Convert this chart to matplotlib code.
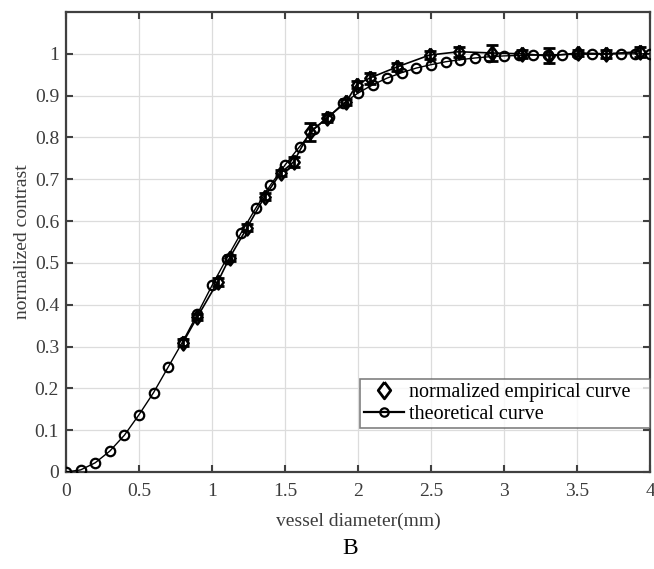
import matplotlib
matplotlib.use("Agg")
import matplotlib.pyplot as plt
from matplotlib.lines import Line2D
import numpy as np

plt.rcParams['font.family'] = ['Liberation Serif', 'DejaVu Serif']

# theoretical curve, sampled every 0.1 mm
theo_x = [0.0, 0.1, 0.2, 0.3, 0.4, 0.5, 0.6, 0.7, 0.8, 0.9,
          1.0, 1.1, 1.2, 1.3, 1.4, 1.5, 1.6, 1.7, 1.8, 1.9,
          2.0, 2.1, 2.2, 2.3, 2.4, 2.5, 2.6, 2.7, 2.8, 2.9,
          3.0, 3.1, 3.2, 3.3, 3.4, 3.5, 3.6, 3.7, 3.8, 3.9, 4.0]
theo_y = [0.0, 0.005, 0.022, 0.05, 0.088, 0.137, 0.19, 0.251, 0.312, 0.378,
          0.446, 0.51, 0.572, 0.631, 0.686, 0.734, 0.778, 0.82, 0.85, 0.882,
          0.906, 0.926, 0.942, 0.955, 0.966, 0.974, 0.981, 0.986, 0.99, 0.993,
          0.995, 0.996, 0.997, 0.998, 0.998, 0.999, 0.999, 0.999, 1.0, 1.0, 1.0]

# normalized empirical curve with error bars
emp_x = [0.80, 0.90, 1.04, 1.12, 1.24, 1.36, 1.47, 1.56, 1.67, 1.79, 1.92,
         1.99, 2.08, 2.27, 2.49, 2.69, 2.92, 3.12, 3.31, 3.51, 3.70, 3.93]
emp_y = [0.309, 0.371, 0.455, 0.512, 0.584, 0.658, 0.715, 0.742, 0.813, 0.847, 0.885,
         0.926, 0.942, 0.969, 0.997, 1.005, 1.002, 1.0, 0.995, 1.002, 1.0, 1.005]
emp_err = [0.008, 0.008, 0.01, 0.008, 0.008, 0.008, 0.008, 0.012, 0.022, 0.01, 0.008,
           0.008, 0.013, 0.01, 0.01, 0.012, 0.02, 0.01, 0.018, 0.008, 0.01, 0.012]

xticks = [0, 0.5, 1, 1.5, 2, 2.5, 3, 3.5, 4]
xtick_labels = ['0', '0.5', '1', '1.5', '2', '2.5', '3', '3.5', '4']
yticks = [0, 0.1, 0.2, 0.3, 0.4, 0.5, 0.6, 0.7, 0.8, 0.9, 1]
ytick_labels = ['0', '0.1', '0.2', '0.3', '0.4', '0.5', '0.6', '0.7', '0.8', '0.9', '1']

# matlab style diamond (taller than wide)
diamond = [(0, 1), (0.75, 0), (0, -1), (-0.75, 0), (0, 1)]

fig = plt.figure(figsize=(6.54, 5.69), dpi=100)
ax = fig.add_axes([66/654, 1 - 472/569, 584/654, 460/569])

axcol = '#404040'
txtcol = '#3c3c3c'
ax.errorbar(emp_x, emp_y, yerr=emp_err, fmt='none', ecolor='black',
            elinewidth=2, capsize=4, capthick=2, zorder=3)
ax.plot(emp_x, emp_y, '-', color='black', lw=1.2, zorder=2)
ax.plot(emp_x, emp_y, ls='none', marker=diamond, ms=10, mfc='none',
        mec='black', mew=1.8, zorder=3)
ax.plot(theo_x, theo_y, '-o', color='black', lw=1.0, ms=6.8, mfc='none',
        mew=1.6, zorder=4)

ax.set_xlim(0, 4)
ax.set_ylim(0, 1.1)
ax.set_xticks(xticks)
ax.set_xticklabels(xtick_labels)
ax.set_yticks(yticks)
ax.set_yticklabels(ytick_labels)
ax.grid(True, color='#dcdcdc', lw=0.9)
ax.set_axisbelow(True)
ax.tick_params(direction='in', top=True, right=True, length=5, width=1.5,
               colors=axcol, labelsize=14, labelcolor=txtcol, pad=5)
ax.tick_params(axis='x', pad=8)
for s in ax.spines.values():
    s.set_color(axcol)
    s.set_linewidth(1.6)

ax.set_xlabel('vessel diameter(mm)', fontsize=14, color=txtcol, labelpad=9)
ax.set_ylabel('normalized contrast', fontsize=14, color=txtcol, labelpad=3)

h1 = Line2D([], [], ls='none', marker=diamond, ms=12, mfc='none', mec='black', mew=2)
h2 = Line2D([], [], ls='-', color='black', lw=1.6, marker='o', ms=6, mfc='none', mew=1.6)
leg = ax.legend([h1, h2], ['normalized empirical curve   ', 'theoretical curve'],
                loc='lower right', bbox_to_anchor=(1.0, 0.096), borderaxespad=0,
                fontsize=14.5, frameon=True, fancybox=False, handlelength=2.0,
                handletextpad=0.25, borderpad=0.2, labelspacing=0.15)
leg.get_frame().set_edgecolor('#606060')
leg.get_frame().set_linewidth(1.2)

fig.text(350/654, 1 - 548/569, 'B', fontsize=17, ha='center', va='center')

fig.savefig('out.png', dpi=100)
